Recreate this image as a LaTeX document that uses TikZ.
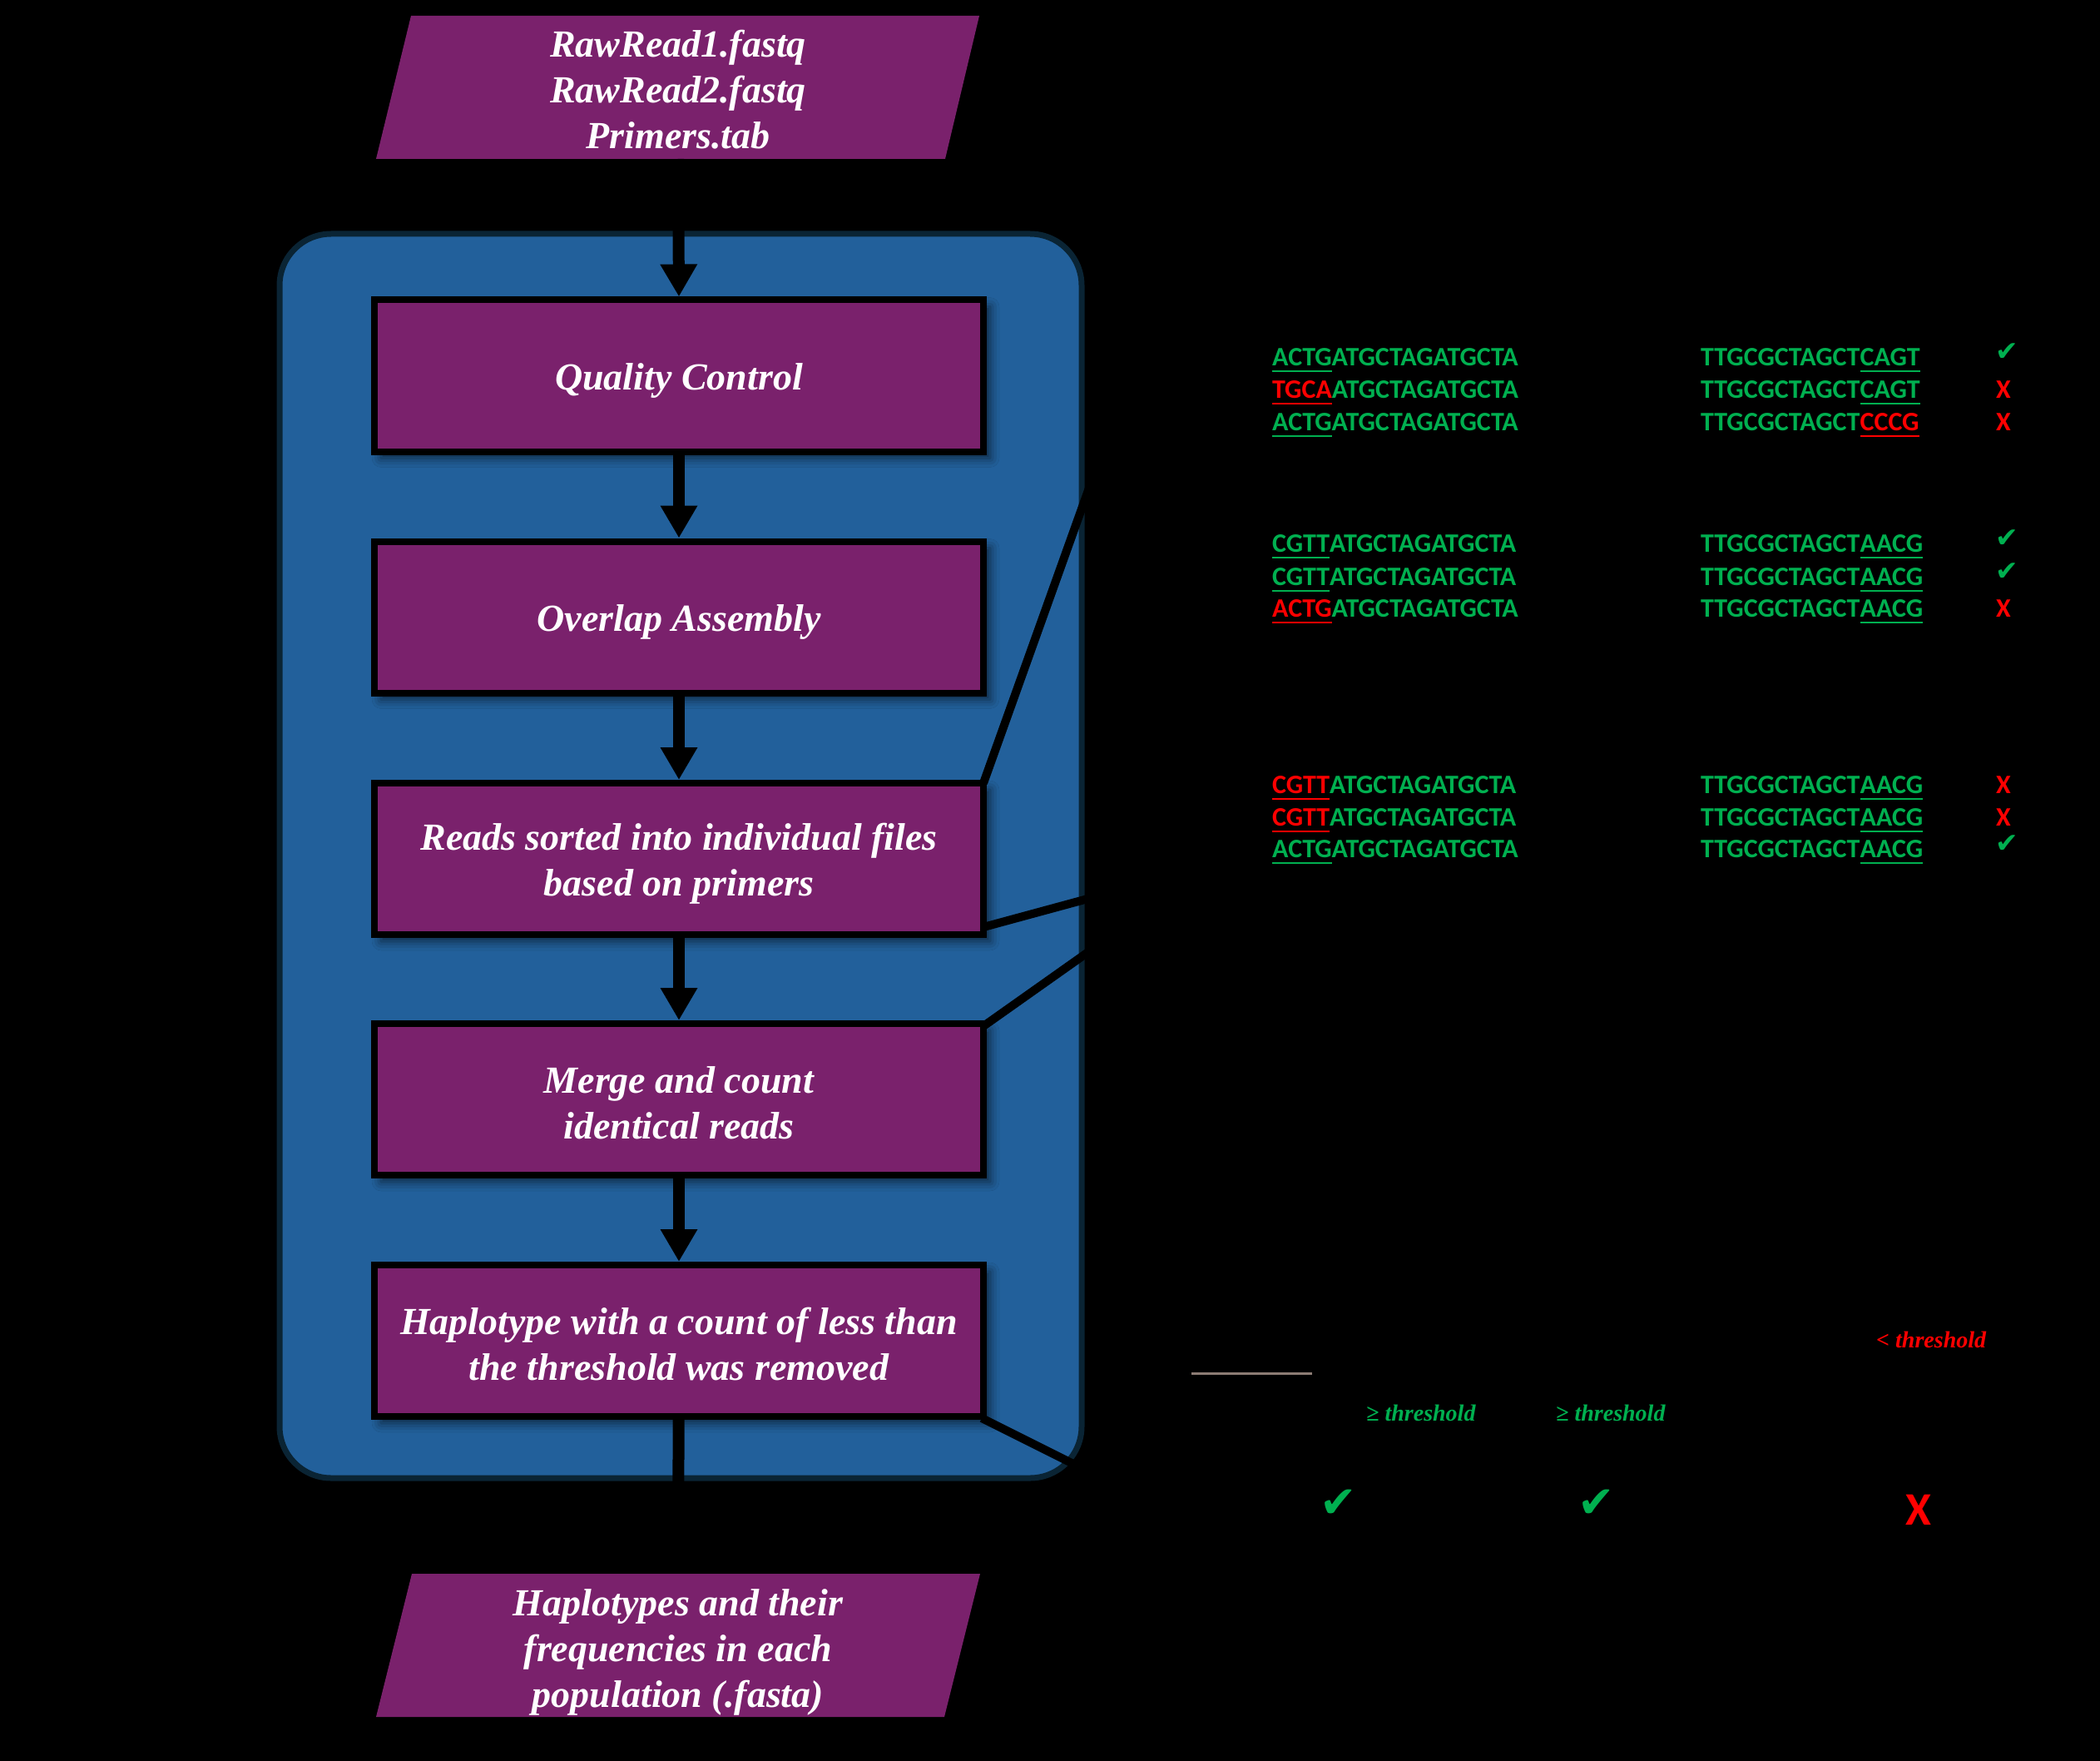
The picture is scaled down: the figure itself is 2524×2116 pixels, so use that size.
\documentclass[tikz,border=0pt]{standalone}
\usepackage{fontspec}
\setmainfont{Liberation Serif}
\newfontfamily\seqfont{Carlito}
\newfontfamily\symfont{DejaVu Sans}
\usetikzlibrary{arrows.meta,shadows.blur}
\definecolor{boxpurple}{HTML}{7A216C}
\definecolor{contblue}{HTML}{22609B}
\definecolor{contborder}{HTML}{0A2434}
\definecolor{seqgreen}{HTML}{00B050}
\definecolor{seqred}{HTML}{FF0000}
\definecolor{rulegrey}{HTML}{8C7C74}
\newcommand\ulx[2]{\setbox0\hbox{\textcolor{#1}{#2}}\rlap{\textcolor{#1}{\rule[-8pt]{\wd0}{2.5pt}}}\box0}
\newcommand\seqrow[6]{%
  \node[seqtext] (L#1) at (1529,#2) {\ulx{#3}{#4}ATGCTAGATGCTA};
  \node[seqtext] (R#1) at (2044,#2) {TTGCGCTAGCT\ulx{#5}{#6}};}
\newcommand\okrow[2]{\node[oksmall] (M#1) at (2412,#2-16) {✔};}
\newcommand\norow[2]{\node[nosmall] (M#1) at (2408,#2) {X};}
\tikzset{
  stepbox/.style={draw=black, line width=8pt, fill=boxpurple,
    minimum width=732pt, minimum height=182pt, inner sep=0pt,
    blur shadow={shadow xshift=8pt, shadow yshift=-8pt, shadow blur radius=11pt, shadow opacity=60}},
  steptext/.style={inner sep=0pt, text=white,
    font=\bfseries\itshape\fontsize{46}{55}\selectfont, align=center},
  container/.style={draw=contborder, line width=7pt, fill=contblue,
    rounded corners=62pt, minimum width=964pt, minimum height=1495pt, inner sep=0pt},
  flow/.style={line width=14pt, black, -{Triangle[width=42pt,length=39pt]}},
  callout/.style={line width=10pt, black},
  seqtext/.style={anchor=base west, inner sep=0pt, text=seqgreen,
    font=\seqfont\bfseries\fontsize{32}{38}\selectfont},
  oksmall/.style={inner sep=0pt, text=seqgreen, font=\symfont\fontsize{33}{35}\selectfont},
  nosmall/.style={anchor=base, inner sep=0pt, text=seqred, font=\seqfont\bfseries\fontsize{32}{38}\selectfont},
  okbig/.style={inner sep=0pt, text=seqgreen, font=\symfont\fontsize{53}{56}\selectfont},
  nobig/.style={inner sep=0pt, text=seqred, font=\seqfont\bfseries\fontsize{56}{60}\selectfont},
  thr/.style={anchor=base west, inner sep=0pt, font=\bfseries\itshape\fontsize{28}{32}\selectfont}
}
\begin{document}
\begin{tikzpicture}[x=1pt,y=-1pt]
\useasboundingbox (0,0) rectangle (2524,2116);
\fill[black] (0,0) rectangle (2524,2116);

% container
\node[container] (cont) at (818,1028.5) {};

% input / output parallelograms
\fill[boxpurple] (494,19) -- (1177,19) -- (1136,191) -- (452,191) -- cycle;
\coordinate (in) at (815,191);
\node[steptext] (inT) at (815,108) {RawRead1.fastq\\RawRead2.fastq\\Primers.tab};
\fill[boxpurple] (495,1891) -- (1178,1891) -- (1135,2063) -- (452,2063) -- cycle;
\coordinate (out) at (815,1891);
\node[steptext] (outT) at (815,1985) {Haplotypes and their\\frequencies in each\\population (.fasta)};

% callout lines
\coordinate (aS) at (1182,941);
\coordinate (aE) at (1322,550);
\coordinate (bS) at (1182,1114);
\coordinate (bE) at (1322,1076);
\coordinate (cS) at (1182,1233);
\coordinate (cE) at (1322,1134);
\coordinate (dS) at (1180,1704);
\coordinate (dE) at (1322,1775);
\draw[callout] (aS) -- (aE);
\draw[callout] (bS) -- (bE);
\draw[callout] (cS) -- (cE);
\draw[callout] (dS) -- (dE);

% step boxes
\node[stepbox] (qc) at (816,451.5) {};
\node[stepbox] (ov) at (816,741.5) {};
\node[stepbox] (so) at (816,1032) {};
\node[stepbox] (me) at (816,1321) {};
\node[stepbox] (ha) at (816,1611) {};
\node[steptext] (qcT) at ([yshift=-6pt]qc.center) {Quality Control};
\node[steptext] (ovT) at ([yshift=-6pt]ov.center) {Overlap Assembly};
\node[steptext] (soT) at ([yshift=-6pt]so.center) {Reads sorted into individual files\\based on primers};
\node[steptext] (meT) at ([yshift=-4pt]me.center) {Merge and count\\identical reads};
\node[steptext] (haT) at ([yshift=-4pt]ha.center) {Haplotype with a count of less than\\the threshold was removed};

% flow arrows
\draw[flow] (in) -- (qc.north);
\draw[flow] (qc) -- (ov);
\draw[flow] (ov) -- (so);
\draw[flow] (so) -- (me);
\draw[flow] (me) -- (ha);
\draw[flow] (ha) -- (out);

% sequence rows
\seqrow{a1}{439}{seqgreen}{ACTG}{seqgreen}{CAGT}
\seqrow{a2}{478}{seqred}{TGCA}{seqgreen}{CAGT}
\seqrow{a3}{517}{seqgreen}{ACTG}{seqred}{CCCG}
\okrow{a1}{439}
\norow{a2}{478}
\norow{a3}{517}

\seqrow{b1}{663}{seqgreen}{CGTT}{seqgreen}{AACG}
\seqrow{b2}{703}{seqgreen}{CGTT}{seqgreen}{AACG}
\seqrow{b3}{741}{seqred}{ACTG}{seqgreen}{AACG}
\okrow{b1}{663}
\okrow{b2}{703}
\norow{b3}{741}

\seqrow{c1}{953}{seqred}{CGTT}{seqgreen}{AACG}
\seqrow{c2}{992}{seqred}{CGTT}{seqgreen}{AACG}
\seqrow{c3}{1030}{seqgreen}{ACTG}{seqgreen}{AACG}
\norow{c1}{953}
\norow{c2}{992}
\okrow{c3}{1030}

% threshold part
\node[thr, text=seqred] (tlow) at (2255,1619) {< threshold};
\coordinate (gl1) at (1432,1650);
\coordinate (gl2) at (1577,1650);
\draw[rulegrey, line width=3pt] (gl1) -- (gl2);
\node[thr, text=seqgreen] (thi1) at (1642,1707) {≥ threshold};
\node[thr, text=seqgreen] (thi2) at (1870,1707) {≥ threshold};
\node[okbig] (ok1) at (1609,1807) {✔};
\node[okbig] (ok2) at (1919,1807) {✔};
\node[nobig] (no1) at (2306,1814) {X};
\end{tikzpicture}
\end{document}
